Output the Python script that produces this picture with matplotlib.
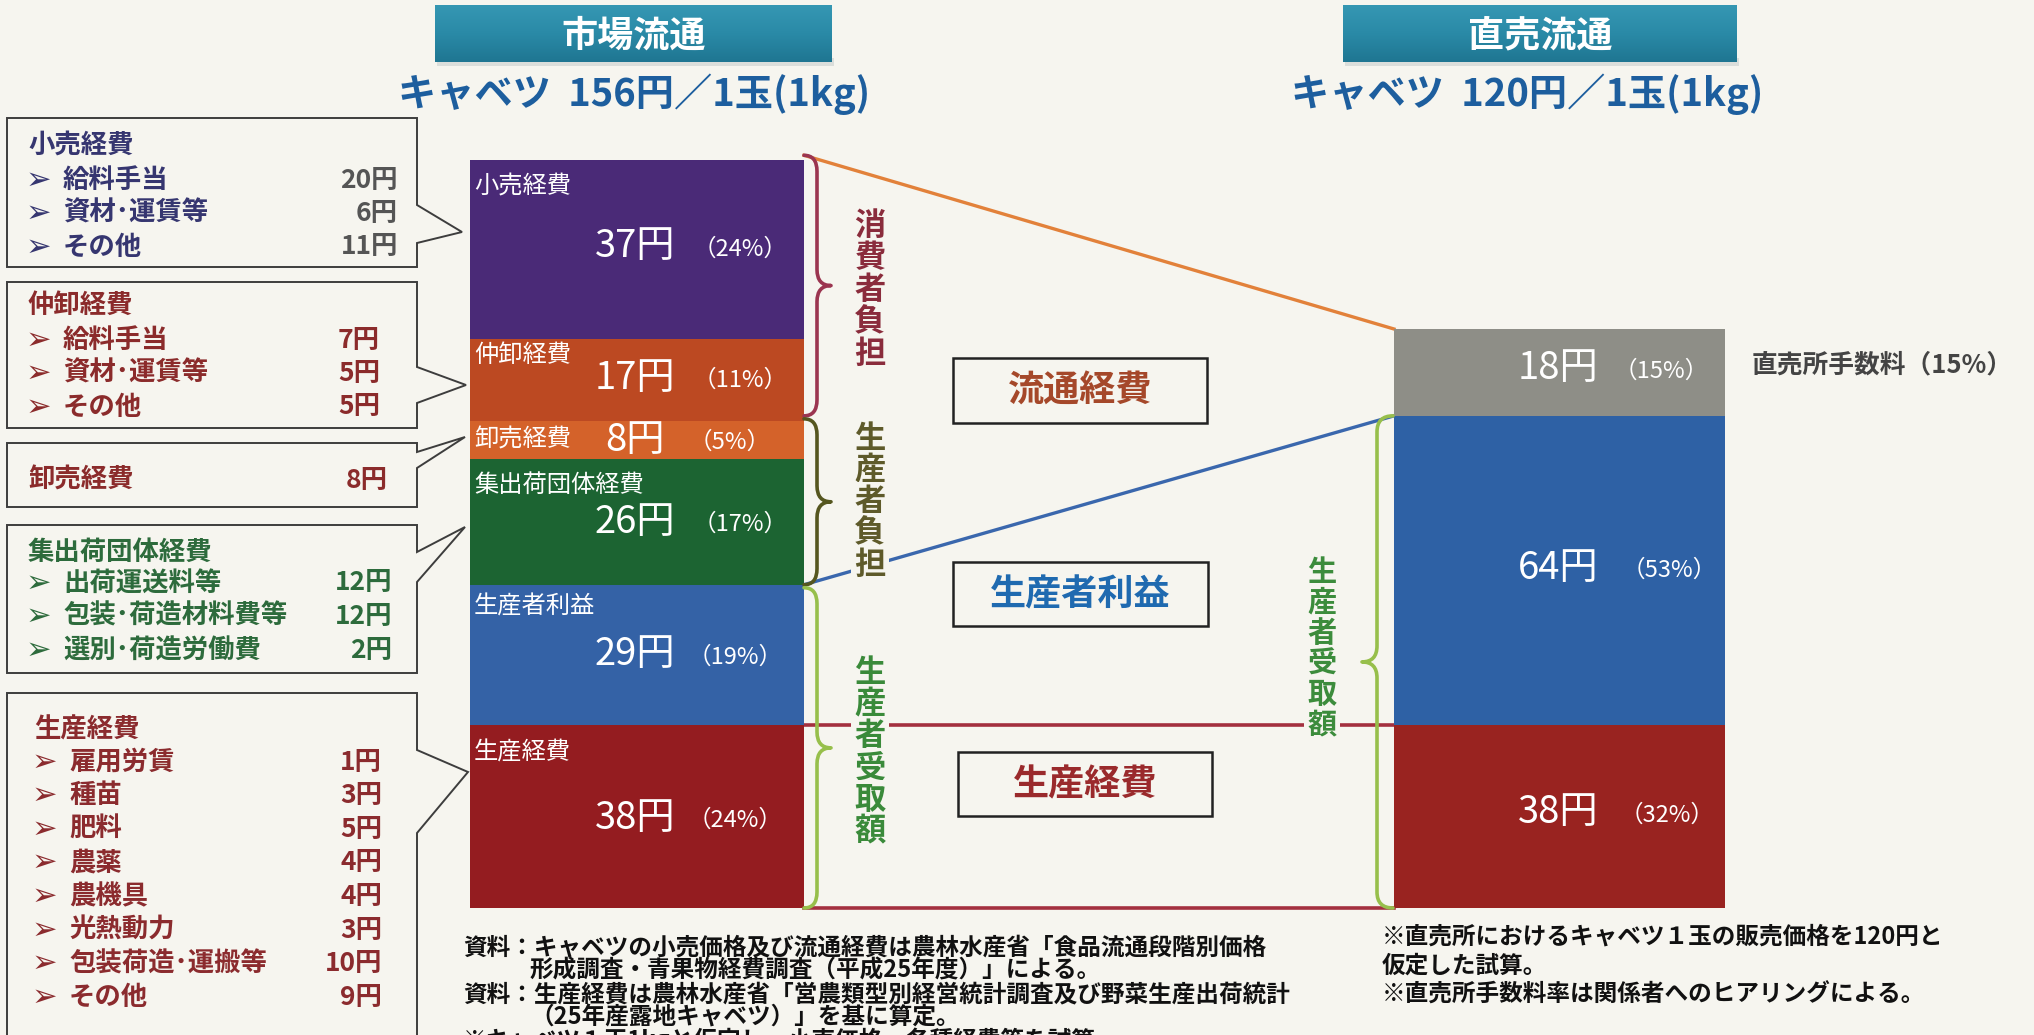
import numpy as np
import matplotlib.pyplot as plt
from matplotlib.patches import Rectangle, Polygon, PathPatch
from matplotlib.path import Path
from matplotlib.colors import LinearSegmentedColormap

plt.rcParams['font.family'] = ['Noto Sans CJK JP', 'DejaVu Sans']

W, H = 2034, 1035
BG = '#f6f5ef'

# ---- data (yen per cabbage) ----
market_labels = ['生産経費', '生産者利益', '集出荷団体経費', '卸売経費', '仲卸経費', '小売経費']
market_values = [38, 29, 26, 8, 17, 37]
market_pcts = ['24%', '19%', '17%', '5%', '11%', '24%']
market_colors = ['#941c20', '#3462a6', '#1c6432', '#d4622a', '#bc4922', '#4a2a77']

direct_values = [38, 64, 18]
direct_pcts = ['32%', '53%', '15%']
direct_colors = ['#992320', '#2e61a5', '#8e8e87']

market_total = 156
direct_total = 120

retail_items = ['給料手当', '資材･運賃等', 'その他']
retail_vals = [20, 6, 11]
middle_items = ['給料手当', '資材･運賃等', 'その他']
middle_vals = [7, 5, 5]
wholesale_val = 8
shipping_items = ['出荷運送料等', '包装･荷造材料費等', '選別･荷造労働費']
shipping_vals = [12, 12, 2]
prod_items = ['雇用労賃', '種苗', '肥料', '農薬', '農機具', '光熱動力', '包装荷造･運搬等', 'その他']
prod_vals = [1, 3, 5, 4, 4, 3, 10, 9]

notes_left = ['資料：キャベツの小売価格及び流通経費は農林水産省「食品流通段階別価格',
              '形成調査・青果物経費調査（平成25年度）」による。',
              '資料：生産経費は農林水産省「営農類型別経営統計調査及び野菜生産出荷統計',
              '（25年産露地キャベツ）」を基に算定。',
              '※キャベツ１玉1kgと仮定し、小売価格、各種経費等を試算。']
notes_right = ['※直売所におけるキャベツ１玉の販売価格を120円と',
               '仮定した試算。',
               '※直売所手数料率は関係者へのヒアリングによる。']

# ---- layout ----
BASE = 908      # pixel row of 0 yen
S = 4.825       # pixels per yen
LX0, LX1 = 470, 804
RX0, RX1 = 1394, 1725

fig = plt.figure(figsize=(W / 100, H / 100), dpi=100, facecolor=BG)
ax = fig.add_axes([0, 0, 1, 1])
ax.set_facecolor(BG)
ov = fig.add_axes([0, 0, 1, 1], facecolor='none')


def ypx(v):
    return BASE - v * S


# bars
mb = np.concatenate([[0], np.cumsum(market_values)[:-1]])
db = np.concatenate([[0], np.cumsum(direct_values)[:-1]])
ax.bar([(LX0 + LX1) / 2] * len(market_values), market_values, width=LX1 - LX0,
       bottom=mb, color=market_colors, linewidth=0, zorder=2)
ax.bar([(RX0 + RX1) / 2] * len(direct_values), direct_values, width=RX1 - RX0,
       bottom=db, color=direct_colors, linewidth=0, zorder=2)

# connector lines
ax.plot([LX1, RX0], [market_total, direct_total], color='#e2813a', lw=2.4, zorder=1)
ax.plot([LX1, RX0], [market_values[0] + market_values[1], direct_values[0] + direct_values[1]],
        color='#3a67ad', lw=2.4, zorder=1)
ax.plot([LX1, RX0], [market_values[0], direct_values[0]], color='#a3303f', lw=2.6, zorder=1)
ax.plot([LX1, RX0], [0, 0], color='#a3303f', lw=2.6, zorder=1)

ax.set_xlim(0, W)
ax.set_ylim((BASE - H) / S, BASE / S)
ax.axis('off')

# labels inside market bar
cat_y = [753, 607, 485, 440, 355, 187]
val_y = [818, 655, 522, 440, 378, 247]
val_x = [595, 595, 595, 605, 595, 595]
pct_x = [735, 735, 740, 730, 740, 740]
for i, lab in enumerate(market_labels):
    ov.text(474, cat_y[i], lab, color='white', fontsize=17.5, ha='left', va='center')
    ov.text(val_x[i], val_y[i], f'{market_values[i]}円', color='white', fontsize=27.5,
            ha='left', va='center')
    ov.text(pct_x[i], val_y[i] + 2, f'（{market_pcts[i]}）', color='white', fontsize=17,
            ha='center', va='center')

# labels inside direct bar
dval_y = [813, 568, 369]
dpct_x = [1667, 1669, 1661]
for i, v in enumerate(direct_values):
    ov.text(1518, dval_y[i], f'{v}円', color='white', fontsize=27.5, ha='left', va='center')
    ov.text(dpct_x[i], dval_y[i] + 2, f'（{direct_pcts[i]}）', color='white', fontsize=17,
            ha='center', va='center')
ov.text(1752, 365, '直売所手数料（15%）', color='#444444', fontsize=18.5,
        fontweight='bold', ha='left', va='center')


# braces
def brace(x_end, x_spine, x_tip, y0, y1, color, lw=2.6):
    ym = (y0 + y1) / 2
    r = min(16, (y1 - y0) / 6)
    verts = [(x_end, y0), (x_spine, y0), (x_spine, y0 + r),
             (x_spine, ym - r), (x_spine, ym), (x_tip, ym),
             (x_spine, ym), (x_spine, ym + r),
             (x_spine, y1 - r), (x_spine, y1), (x_end, y1)]
    codes = [Path.MOVETO, Path.CURVE3, Path.CURVE3, Path.LINETO, Path.CURVE3, Path.CURVE3,
             Path.CURVE3, Path.CURVE3, Path.LINETO, Path.CURVE3, Path.CURVE3]
    ov.add_patch(PathPatch(Path(verts, codes), fc='none', ec=color, lw=lw,
                           capstyle='round', joinstyle='round', zorder=3))


consumer_top = market_total
consumer_bot = market_total - market_values[5] - market_values[4]
producer_bot = market_values[0] + market_values[1]
brace(LX1, 817, 831, ypx(consumer_top), ypx(consumer_bot), '#9b3550')
brace(LX1, 817, 831, ypx(consumer_bot) + 3, ypx(producer_bot), '#55561f')
brace(LX1, 817, 831, ypx(producer_bot) + 3, ypx(0), '#97bf4b')
brace(RX0 - 1, 1377, 1362, ypx(direct_values[0] + direct_values[1]), ypx(0), '#97bf4b')


def vtext(x, y_first, pitch, s, color, size):
    for k, ch in enumerate(s):
        ov.text(x, y_first + k * pitch, ch, color=color, fontsize=size, fontweight='bold',
                ha='center', va='center', zorder=5,
                bbox=dict(boxstyle='square,pad=0.12', fc=BG, ec='none'))


vtext(870, 226, 32, '消費者負担', '#8a2c3c', 22.5)
vtext(870, 439, 31.4, '生産者負担', '#5e5a2a', 22.5)
vtext(870, 673, 31.7, '生産者受取額', '#3a8a3a', 22.5)
vtext(1322, 572, 30.5, '生産者受取額', '#3c8c3c', 21)

# center boxes
for (x0, y0, x1, y1, txt, col) in [(953, 358, 1207, 423, '流通経費', '#a5482a'),
                                    (953, 562, 1208, 626, '生産者利益', '#1f6ab0'),
                                    (958, 752, 1212, 816, '生産経費', '#9a2a2c')]:
    ov.add_patch(Rectangle((x0, y0), x1 - x0, y1 - y0, fc=BG, ec='#222222', lw=1.8, zorder=4))
    ov.text((x0 + x1) / 2, (y0 + y1) / 2 + 1, txt, color=col, fontsize=26, fontweight='bold',
            ha='center', va='center', zorder=5)

# banners
cmap = LinearSegmentedColormap.from_list('teal', ['#3597b3', '#2a8aa7', '#1f7692'])
grad = np.linspace(0, 1, 64).reshape(-1, 1)
for (x0, x1, title, sub, sx) in [(435, 832, '市場流通', 'キャベツ  156円／1玉(1kg)', 634),
                                 (1343, 1737, '直売流通', 'キャベツ  120円／1玉(1kg)', 1527)]:
    ov.add_patch(Rectangle((x0 + 2, 58), x1 - x0, 8, fc='#c9cfcf', ec='none', alpha=0.6))
    ov.imshow(grad, extent=(x0, x1, 62, 5), cmap=cmap, aspect='auto', zorder=2)
    ov.text((x0 + x1) / 2, 36, title, color='white', fontsize=26, fontweight='bold',
            ha='center', va='center', zorder=3)
    ov.text(sx, 94, sub, color='#1d5e9e', fontsize=27.5, fontweight='bold',
            ha='center', va='center')


# callout boxes on the left
def callout(y0, y1, ta, tb, tip):
    x0, x1 = 7, 417
    verts = [(x0, y0), (x1, y0), (x1, ta), tip, (x1, tb), (x1, y1), (x0, y1)]
    ov.add_patch(Polygon(verts, closed=True, fc=BG, ec='#3d3d3d', lw=1.4, zorder=2))


def item_list(title, items, vals, tcol, vcol, y_title, y_first, pitch, vx, xa=28):
    ov.text(xa, y_title, title, color=tcol, fontsize=19, fontweight='bold', ha='left', va='center')
    for k, (it, v) in enumerate(zip(items, vals)):
        y = y_first + k * pitch
        ov.text(xa - 2, y, '➢', color=tcol, fontsize=22, ha='left', va='center',
                family=['DejaVu Sans'])
        ov.text(xa + 35, y, it, color=tcol, fontsize=19, fontweight='bold', ha='left', va='center')
        ov.text(vx, y, f'{v}円', color=vcol, fontsize=19, fontweight='bold', ha='right', va='center')


callout(118, 267, 205, 243, (462, 232))
item_list('小売経費', retail_items, retail_vals, '#363670', '#555555', 145, 180, 33.5, 398)

callout(282, 428, 367, 403, (466, 385))
item_list('仲卸経費', middle_items, middle_vals, '#8b2b2b', '#8b2b2b', 305, 340, 33.5, 380)

callout(443, 507, 452, 468, (465, 437))
ov.text(28, 480, '卸売経費', color='#8b2b2b', fontsize=19, fontweight='bold', ha='left', va='center')
ov.text(388, 480, f'{wholesale_val}円', color='#8b2b2b', fontsize=19, fontweight='bold',
        ha='right', va='center')

callout(525, 673, 552, 582, (465, 527))
item_list('集出荷団体経費', shipping_items, shipping_vals, '#2d6b3c', '#2d6b3c', 552, 583, 33.5, 392)

callout(693, 1060, 750, 833, (468, 772))
item_list('生産経費', prod_items, prod_vals, '#8b2b2e', '#8b2b2e', 730, 762, 33.6, 382, xa=34)

# notes
left_pos = [(463, 947), (530, 970), (463, 994), (530, 1017), (463, 1040)]
for (x, y), t in zip(left_pos, notes_left):
    ov.text(x, y, t, color='#111111', fontsize=17, fontweight='bold', ha='left', va='center')
for k, t in enumerate(notes_right):
    ov.text(1382, 937 + k * 29, t, color='#111111', fontsize=17, fontweight='bold',
            ha='left', va='center')

ov.set_xlim(0, W)
ov.set_ylim(H, 0)
ov.axis('off')

fig.savefig('out.png', dpi=100, facecolor=BG)
